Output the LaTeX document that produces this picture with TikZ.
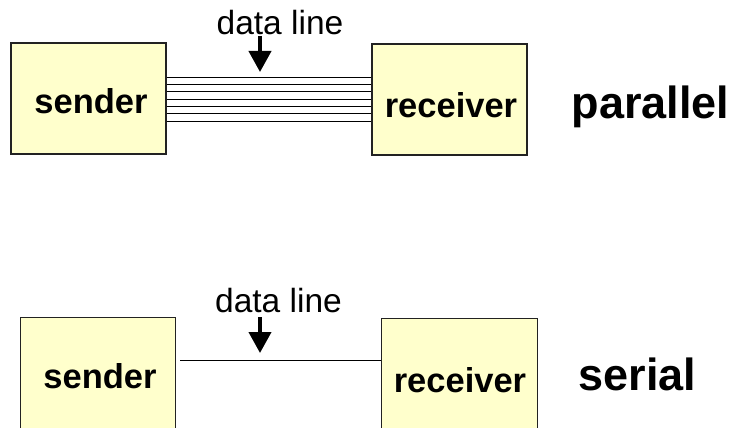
\documentclass[tikz,border=0pt]{standalone}
\usepackage{fontspec}
\setmainfont{Liberation Sans}
\usetikzlibrary{arrows.meta}
\definecolor{boxfill}{HTML}{FFFFCC}
\definecolor{boxline}{HTML}{222222}
\begin{document}
\begin{tikzpicture}[x=1pt,y=-1pt,
  box/.style={draw=boxline,fill=boxfill,line width=1.1pt,rectangle,inner sep=0pt},
  boxtxt/.style={anchor=base,inner sep=0pt,font=\fontsize{34.5}{38}\selectfont\bfseries},
  kind/.style={anchor=base,inner sep=0pt,font=\fontsize{45}{48}\selectfont\bfseries},
  lbl/.style={anchor=base,inner sep=0pt,font=\fontsize{33.5}{36}\selectfont},
  wire/.style={draw=black,line width=1pt},
  pointer/.style={draw=black,line width=4pt,-{Triangle[width=22pt,length=21pt]}}]
\clip (0,0) rectangle (733,428);
\fill[white] (0,0) rectangle (733,428);
% parallel
\node[box,minimum width=155pt,minimum height=111pt] (s1) at (88.5,98.5) {};
\node[box,minimum width=155pt,minimum height=111pt] (r1) at (449.5,99.5) {};
\node[boxtxt] (s1t) at (91,113) {sender};
\node[boxtxt] (r1t) at (451,117) {receiver};
\node[kind] (par) at (650.5,118) {parallel};
\node[lbl] (dl1) at (280,35) {data line};
\coordinate (a1s) at (260,36);
\coordinate (a1e) at (260,72);
\draw[pointer] (a1s) -- (a1e);
\foreach \y in {77,84.3,91.7,99,106.3,113.7,121}
  \draw[wire] (s1.east |- 0,\y) -- (r1.west |- 0,\y);
% serial
\node[box,minimum width=155pt,minimum height=130pt,anchor=north west] (s2) at (20,317) {};
\node[box,minimum width=156pt,minimum height=130pt,anchor=north west] (r2) at (381,318) {};
\node[boxtxt] (s2t) at (100,388) {sender};
\node[boxtxt] (r2t) at (460,392) {receiver};
\node[kind] (ser) at (637.5,390) {serial};
\node[lbl] (dl2) at (278.5,312) {data line};
\coordinate (a2s) at (260,317);
\coordinate (a2e) at (260,353);
\draw[pointer] (a2s) -- (a2e);
\coordinate (w2) at (180,360);
\draw[wire] (w2) -- (r2.west |- w2);
\end{tikzpicture}
\end{document}
